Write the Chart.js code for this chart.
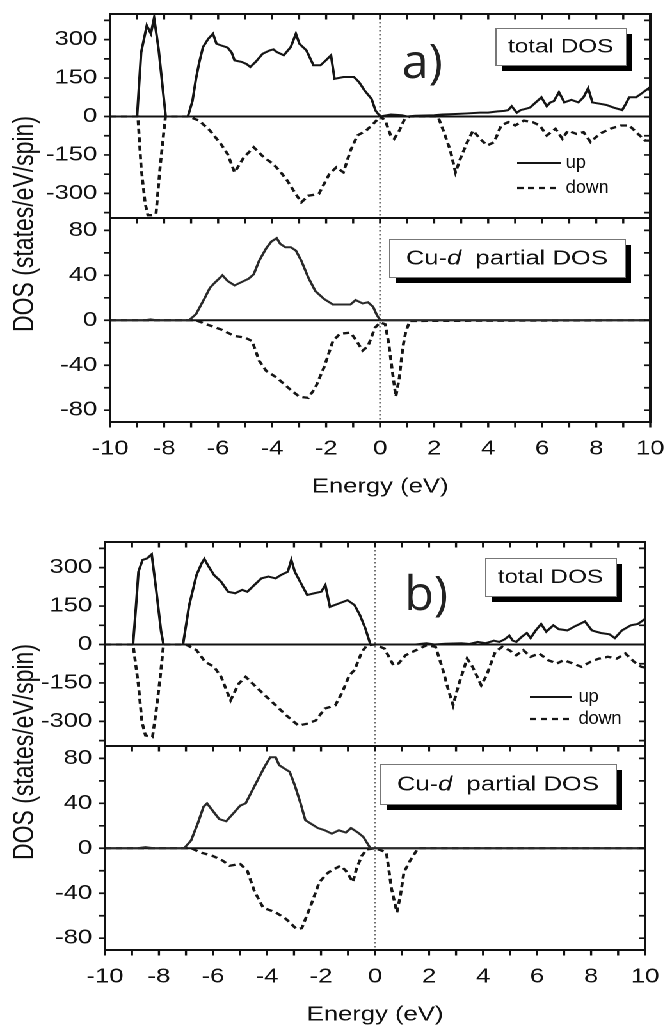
<!DOCTYPE html>
<html lang="en">
<head>
<meta charset="UTF-8">
<title>Spin-resolved DOS</title>
<script src="https://cdn.jsdelivr.net/npm/chart.js"></script>
<style>
  html, body { margin: 0; padding: 0; background: #fff; overflow: hidden; }
  /* the original figure is stretched sideways, so the whole page is drawn narrow and widened */
  #page { position: absolute; left: 0; top: 0; width: 521px; height: 1027px; transform: scaleX(1.28); transform-origin: 0 0; }
  .fig { position: absolute; width: 521px; height: 503px; }
</style>
</head>
<body>
<div id="page">
  <div class="fig" style="left:0; top:0"><canvas id="figA" width="521" height="503"></canvas></div>
  <div class="fig" style="left:-4px; top:528px"><canvas id="figB" width="521" height="503"></canvas></div>
</div>
<script>
const STRETCH = 1.28;

// tick positions
const xTicks = [-10, -9, -8, -7, -6, -5, -4, -3, -2, -1, 0, 1, 2, 3, 4, 5, 6, 7, 8, 9, 10];
const totTicks = [-375, -300, -225, -150, -75, 0, 75, 150, 225, 300, 375];
const cuTicks = [-80, -60, -40, -20, 0, 20, 40, 60, 80];

// ---- a) total DOS
const aTotUpE = [-10, -9.0, -8.85, -8.64, -8.49, -8.37, -8.2, -7.94, -7.12, -6.95,
  -6.82, -6.7, -6.56, -6.36, -6.19, -6.06, -5.91, -5.65, -5.5, -5.39,
  -5.13, -4.95, -4.81, -4.61, -4.35, -4.09, -3.95, -3.83, -3.57, -3.31,
  -3.12, -2.99, -2.73, -2.47, -2.21, -2.01, -1.82, -1.69, -1.36, -0.97,
  -0.78, -0.58, -0.32, -0.17, 0, 0.4, 0.8, 1.0, 1.3, 2.0,
  2.3, 2.8, 3.2, 3.7, 4.0, 4.35, 4.6, 4.74, 4.87, 5.06,
  5.2, 5.39, 5.55, 5.71, 5.97, 6.17, 6.3, 6.43, 6.62, 6.82,
  7.08, 7.34, 7.53, 7.7, 7.86, 8.12, 8.38, 8.64, 8.96, 9.1,
  9.22, 9.48, 9.68, 9.94, 10];
const aTotUpV = [0, 0, 250, 355, 323, 385, 260, 0, 0, 60,
  147, 210, 271, 304, 323, 284, 278, 269, 250, 219,
  213, 205, 193, 213, 245, 258, 262, 252, 239, 271,
  323, 284, 258, 200, 200, 219, 239, 147, 154, 154,
  134, 102, 69, 23, 0, 8, 5, 0, 3, 5,
  8, 10, 12, 15, 15, 20, 22, 25, 40, 15,
  25, 30, 35, 50, 75, 40, 55, 60, 95, 55,
  65, 55, 75, 110, 55, 50, 45, 35, 25, 50,
  75, 75, 90, 110, 100];
const aTotDnE = [-10, -8.97, -8.85, -8.7, -8.6, -8.45, -8.3, -8.15, -7.95, -7.1,
  -6.7, -6.3, -5.9, -5.65, -5.39, -5.05, -4.68, -4.3, -3.96, -3.7,
  -3.44, -3.2, -2.92, -2.66, -2.27, -1.88, -1.62, -1.36, -1.1, -0.84,
  -0.52, -0.26, 0, 0.19, 0.39, 0.52, 0.71, 0.91, 1.1, 2.14,
  2.34, 2.6, 2.79, 2.99, 3.25, 3.44, 3.7, 3.96, 4.22, 4.48,
  4.74, 5.0, 5.32, 5.65, 5.91, 6.17, 6.49, 6.75, 6.95, 7.27,
  7.53, 7.79, 8.12, 8.51, 8.9, 9.22, 9.48, 9.81, 10];
const aTotDnV = [0, 0, -200, -340, -385, -385, -380, -200, 0, 0,
  -16, -55, -107, -146, -218, -160, -120, -160, -185, -215,
  -250, -290, -335, -309, -302, -224, -198, -218, -133, -74,
  -55, -29, 0, -16, -74, -87, -55, -9, 0, 0,
  -55, -133, -218, -159, -94, -55, -87, -113, -100, -35,
  -22, -35, -16, -22, -35, -74, -48, -87, -55, -68,
  -61, -100, -68, -48, -35, -35, -61, -94, -94];

// ---- a) Cu-d partial DOS
const aCuUpE = [-10, -8.7, -8.5, -8.3, -7.08, -6.82, -6.49, -6.3, -6.1, -5.84,
  -5.65, -5.39, -5.13, -4.87, -4.68, -4.48, -4.22, -4.03, -3.83, -3.7,
  -3.51, -3.31, -3.12, -2.92, -2.66, -2.4, -2.08, -1.75, -1.36, -1.1,
  -0.91, -0.65, -0.45, -0.26, -0.13, 0, 10];
const aCuUpV = [0, 0, 0.8, 0, 0, 5.4, 20, 29, 34, 40,
  35, 31, 34, 37, 41, 53, 64, 70, 73, 68,
  65, 65, 62, 53, 38, 26, 19, 14, 14, 14,
  18, 15, 16, 12, 5, 0, 0];
const aCuDnE = [-10, -6.82, -6.43, -5.91, -5.39, -5.0, -4.74, -4.48, -4.22, -3.83,
  -3.31, -2.99, -2.66, -2.4, -2.08, -1.75, -1.49, -1.1, -0.91, -0.65,
  -0.45, -0.19, 0, 0.19, 0.32, 0.45, 0.58, 0.71, 0.84, 0.95,
  1.1, 10];
const aCuDnV = [0, 0, -3.6, -8, -14, -15.5, -18.5, -36, -45, -51,
  -62, -68, -69, -60, -42, -18.5, -12, -11, -17, -27,
  -23, -6.6, -2, -3.6, -21, -45, -68, -51, -24, -10,
  -0.6, 0];

// ---- b) total DOS
const bTotUpE = [-10, -8.96, -8.85, -8.76, -8.61, -8.44, -8.27, -8.11, -7.92, -7.83,
  -7.11, -6.88, -6.61, -6.42, -6.32, -6.16, -5.96, -5.7, -5.44, -5.18,
  -4.92, -4.73, -4.47, -4.21, -3.95, -3.68, -3.49, -3.23, -3.1, -2.97,
  -2.71, -2.51, -2.25, -1.99, -1.84, -1.67, -1.34, -1.02, -0.76, -0.56,
  -0.36, -0.17, 1.5, 1.9, 2.2, 2.6, 3.2, 3.5, 3.8, 4.1,
  4.4, 4.6, 4.8, 4.97, 5.1, 5.23, 5.43, 5.62, 5.76, 5.95,
  6.15, 6.34, 6.6, 6.8, 7.12, 7.38, 7.58, 7.77, 8.03, 8.36,
  8.68, 8.88, 9.14, 9.47, 9.73, 10];
const bTotUpV = [0, 0, 150, 284, 330, 336, 352, 219, 50, 0,
  0, 154, 271, 317, 334, 304, 271, 245, 206, 200,
  213, 206, 232, 258, 265, 258, 271, 284, 330, 284,
  232, 193, 200, 206, 232, 147, 160, 173, 154, 115,
  63, 0, 0, 5, 0, 3, 5, 2, 10, 5,
  15, 10, 20, 35, 15, 10, 30, 45, 25, 55,
  80, 50, 75, 60, 55, 70, 80, 90, 55, 45,
  40, 25, 55, 75, 80, 100];
const bTotDnE = [-10, -8.96, -8.76, -8.63, -8.5, -8.24, -8.11, -7.96, -7.83, -7.0,
  -6.61, -6.29, -5.96, -5.7, -5.35, -5.05, -4.79, -4.47, -4.08, -3.68,
  -3.29, -2.84, -2.51, -2.19, -1.86, -1.47, -1.21, -0.95, -0.76, -0.49,
  -0.3, 0, 0.35, 0.68, 0.87, 1.13, 1.52, 1.91, 2.24, 2.5,
  2.7, 2.89, 3.09, 3.41, 3.61, 3.93, 4.13, 4.45, 4.71, 4.97,
  5.23, 5.49, 5.76, 6.08, 6.41, 6.73, 6.99, 7.32, 7.64, 7.97,
  8.29, 8.62, 8.95, 9.27, 9.6, 9.86, 10];
const bTotDnV = [0, 0, -159, -302, -355, -361, -263, -133, 0, 0,
  -22, -68, -87, -126, -218, -153, -126, -159, -198, -237,
  -276, -316, -309, -296, -250, -237, -185, -120, -100, -29,
  -3, 0, -16, -81, -74, -42, -22, -3, -9, -94,
  -172, -237, -159, -55, -87, -159, -120, -29, -9, -22,
  -42, -22, -48, -35, -61, -74, -61, -74, -87, -68,
  -55, -48, -55, -35, -68, -87, -90];

// ---- b) Cu-d partial DOS
const bCuUpE = [-10, -8.8, -8.5, -8.2, -7.07, -6.81, -6.55, -6.35, -6.22, -6.03,
  -5.77, -5.51, -5.25, -4.99, -4.79, -4.6, -4.34, -4.08, -3.88, -3.68,
  -3.55, -3.36, -3.16, -2.97, -2.77, -2.58, -2.38, -2.12, -1.86, -1.6,
  -1.34, -1.08, -0.89, -0.63, -0.43, -0.17, 10];
const bCuUpV = [0, 0, 1, 0, 0, 7, 23, 37, 40, 34,
  26, 24, 31, 38, 40, 49, 61, 73, 81, 81,
  74, 71, 68, 56, 41, 25, 22, 18, 16, 13,
  16, 14, 18, 14, 10, 0, 0];
const bCuDnE = [-10, -6.8, -6.48, -6.03, -5.64, -5.38, -4.99, -4.73, -4.47, -4.14,
  -3.68, -3.29, -2.9, -2.71, -2.38, -2.06, -1.73, -1.28, -1.08, -0.82,
  -0.69, -0.49, -0.3, 0, 0.42, 0.61, 0.81, 0.94, 1.07, 1.26,
  1.46, 1.59, 10];
const bCuDnV = [0, 0, -3.6, -6.6, -11, -15.5, -14, -20, -38, -53,
  -57, -63, -72, -71, -51, -30, -21.5, -15.5, -20, -30,
  -18.5, -6.6, -1, 0, -3.6, -36, -57, -42, -21.5, -12.5,
  -5, 0, 0];

Chart.defaults.font.family = '"Liberation Sans", Arial, sans-serif';
Chart.defaults.color = '#111';

const pts = (e, v) => e.map((x, i) => ({x: x, y: v[i]}));

// where the boxes, legend and panel letter sit, in px from the panel corner
const layoutA = {
    tag: 'a)', tagX: 228, tagY: 64,
    totBox: {x: 301, y: 14, w: 102, h: 37},
    cuBox: {x: 218, y: 21, w: 184, h: 38},
    legend: {x0: 318, x1: 352, tx: 356, rows: [149, 174]},
    yTitleX: 19.5, yTitleDy: 6
};
const layoutB = {
    tag: 'b)', tagX: 234, tagY: 68,
    totBox: {x: 297, y: 16, w: 102, h: 38},
    cuBox: {x: 215, y: 18, w: 184, h: 40},
    legend: {x0: 332, x1: 365, tx: 370, rows: [155, 177]},
    yTitleX: 23.5, yTitleDy: 6
};

function shadowBox(ctx, x, y, w, h) {
    ctx.fillStyle = '#000';
    ctx.fillRect(x + 5, y + 6, w, h);
    ctx.fillStyle = '#fff';
    ctx.fillRect(x, y, w, h);
    ctx.strokeStyle = '#777';
    ctx.lineWidth = 1;
    ctx.strokeRect(x + 0.5, y + 0.5, w, h);
}

// text that should keep its natural width after the page stretch
function plainText(ctx, text, x, y) {
    ctx.save();
    ctx.translate(x, y);
    ctx.scale(1 / STRETCH, 1);
    ctx.fillText(text, 0, 0);
    ctx.restore();
}

function panelPlugin(lay) {
    return {
        id: 'dosPanels',
        beforeDatasetsDraw(chart) {
            const {ctx, chartArea: a, scales} = chart;
            const x0 = scales.x.getPixelForValue(0);
            ctx.save();
            // Fermi level
            ctx.strokeStyle = '#6f6f6f';
            ctx.lineWidth = 1.6;
            ctx.setLineDash([1.5, 2.5]);
            ctx.beginPath();
            ctx.moveTo(x0, a.top);
            ctx.lineTo(x0, a.bottom);
            ctx.stroke();
            ctx.setLineDash([]);
            ctx.strokeStyle = '#111';
            ctx.lineWidth = 2;
            ['yTot', 'yCu'].forEach(id => {
                const y0 = scales[id].getPixelForValue(0);
                ctx.beginPath();
                ctx.moveTo(a.left, y0);
                ctx.lineTo(a.right, y0);
                ctx.stroke();
            });
            ctx.restore();
        },
        afterDatasetsDraw(chart) {
            const {ctx, chartArea: a, scales} = chart;
            const sx = scales.x, yT = scales.yTot, yC = scales.yCu;
            ctx.save();

            // frames and ticks (top/right ticks point inwards)
            [yT, yC].forEach((ys, k) => {
                ctx.strokeStyle = '#111';
                ctx.lineWidth = 2;
                ctx.strokeRect(a.left, ys.top, a.right - a.left, ys.bottom - ys.top);
                ctx.lineWidth = 1.7;
                ctx.beginPath();
                sx.ticks.forEach(t => {
                    const px = sx.getPixelForValue(t.value);
                    ctx.moveTo(px, ys.top);
                    ctx.lineTo(px, ys.top + 5.5);
                    if (k === 1) {
                        ctx.moveTo(px, ys.bottom);
                        ctx.lineTo(px, ys.bottom + 5.5);
                    }
                });
                ys.ticks.forEach(t => {
                    const py = ys.getPixelForValue(t.value);
                    ctx.moveTo(a.left - 5, py);
                    ctx.lineTo(a.left, py);
                    ctx.moveTo(a.right - 5, py);
                    ctx.lineTo(a.right, py);
                });
                ctx.stroke();
            });

            // "total DOS" box
            let b = lay.totBox;
            shadowBox(ctx, a.left + b.x, yT.top + b.y, b.w, b.h);
            ctx.fillStyle = '#111';
            ctx.font = '19px "Liberation Sans"';
            ctx.textAlign = 'center';
            ctx.textBaseline = 'middle';
            ctx.fillText('total DOS', a.left + b.x + b.w / 2, yT.top + b.y + b.h / 2 + 1);

            // "Cu-d partial DOS" box, d in italics
            b = lay.cuBox;
            shadowBox(ctx, a.left + b.x, yC.top + b.y, b.w, b.h);
            ctx.fillStyle = '#111';
            const parts = [['Cu-', '20px "Liberation Sans"'], ['d', 'italic 20px "Liberation Sans"'], ['  partial DOS', '20px "Liberation Sans"']];
            let total = 0;
            parts.forEach(p => { ctx.font = p[1]; total += ctx.measureText(p[0]).width; });
            let tx = a.left + b.x + (b.w - total) / 2;
            ctx.textAlign = 'left';
            parts.forEach(p => {
                ctx.font = p[1];
                ctx.fillText(p[0], tx, yC.top + b.y + b.h / 2 + 1);
                tx += ctx.measureText(p[0]).width;
            });

            // legend for the spin channels
            const lg = lay.legend;
            ctx.font = '18px "Liberation Sans"';
            chart.data.datasets.filter(d => d.yAxisID === 'yTot').forEach((d, i) => {
                const ly = yT.top + lg.rows[i];
                ctx.strokeStyle = d.borderColor;
                ctx.lineWidth = d.borderWidth;
                ctx.setLineDash(d.borderDash || []);
                ctx.beginPath();
                ctx.moveTo(a.left + lg.x0, ly);
                ctx.lineTo(a.left + lg.x1, ly);
                ctx.stroke();
                ctx.setLineDash([]);
                ctx.fillStyle = '#111';
                plainText(ctx, d.label, a.left + lg.tx, ly);
            });

            // panel letter
            ctx.fillStyle = '#222';
            ctx.font = '48px "Open Sans"';
            ctx.textBaseline = 'alphabetic';
            plainText(ctx, lay.tag, a.left + lay.tagX, yT.top + lay.tagY);

            // shared y title
            ctx.translate(lay.yTitleX, (yT.top + yC.bottom) / 2 + lay.yTitleDy);
            ctx.rotate(-Math.PI / 2);
            ctx.fillStyle = '#111';
            ctx.font = '23px "Liberation Sans"';
            ctx.textAlign = 'center';
            ctx.textBaseline = 'middle';
            ctx.fillText('DOS (states/eV/spin)', 0, 0);
            ctx.restore();
        }
    };
}

// label gap comes from an undrawn tick length; ticks.padding would also widen the plot margins
function yScale(ticksList, labelEvery, min, max, weight) {
    return {
        type: 'linear',
        position: 'left',
        stack: 'dos',
        stackWeight: 1,
        weight: weight,
        min: min,
        max: max,
        afterBuildTicks: s => { s.ticks = ticksList.map(v => ({value: v})); },
        afterFit: s => { s.width = 86; },
        grid: {display: false, drawTicks: true, tickLength: 10},
        border: {display: false},
        ticks: {
            autoSkip: false,
            padding: 0,
            font: {size: 20},
            callback: v => (v % labelEvery === 0 ? String(v) : '')
        }
    };
}

function makeFig(canvasId, series, lay) {
    return new Chart(document.getElementById(canvasId), {
        type: 'line',
        data: {
            datasets: [
                {label: 'up', yAxisID: 'yTot', data: pts(series[0], series[1]), borderColor: '#151515', borderWidth: 2},
                {label: 'down', yAxisID: 'yTot', data: pts(series[2], series[3]), borderColor: '#151515', borderWidth: 2.3, borderDash: [5, 3.5]},
                {label: 'up', yAxisID: 'yCu', data: pts(series[4], series[5]), borderColor: '#2a2a2a', borderWidth: 2},
                {label: 'down', yAxisID: 'yCu', data: pts(series[6], series[7]), borderColor: '#151515', borderWidth: 2.3, borderDash: [5, 3.5]}
            ]
        },
        options: {
            responsive: false,
            animation: false,
            devicePixelRatio: 2,
            elements: {point: {radius: 0}, line: {tension: 0}},
            layout: {padding: {left: 0, right: 13, top: 14, bottom: 0}},
            plugins: {legend: {display: false}, tooltip: {enabled: false}},
            scales: {
                x: {
                    type: 'linear',
                    min: -10,
                    max: 10,
                    afterBuildTicks: s => { s.ticks = xTicks.map(v => ({value: v})); },
                    afterFit: s => { s.height = 81; },
                    grid: {display: false, drawTicks: true, tickLength: 15},
                    border: {display: false},
                    ticks: {
                        autoSkip: false,
                        maxRotation: 0,
                        padding: 0,
                        font: {size: 20},
                        callback: v => (v % 2 === 0 ? String(v) : '')
                    },
                    title: {display: true, text: 'Energy (eV)', font: {size: 20}, padding: {top: 0, bottom: 4}}
                },
                yCu: yScale(cuTicks, 40, -90.5, 91, 1),
                yTot: yScale(totTicks, 150, -396, 400, 2)
            }
        },
        plugins: [panelPlugin(lay)]
    });
}

makeFig('figA', [aTotUpE, aTotUpV, aTotDnE, aTotDnV, aCuUpE, aCuUpV, aCuDnE, aCuDnV], layoutA);
makeFig('figB', [bTotUpE, bTotUpV, bTotDnE, bTotDnV, bCuUpE, bCuUpV, bCuDnE, bCuDnV], layoutB);
</script>
</body>
</html>
